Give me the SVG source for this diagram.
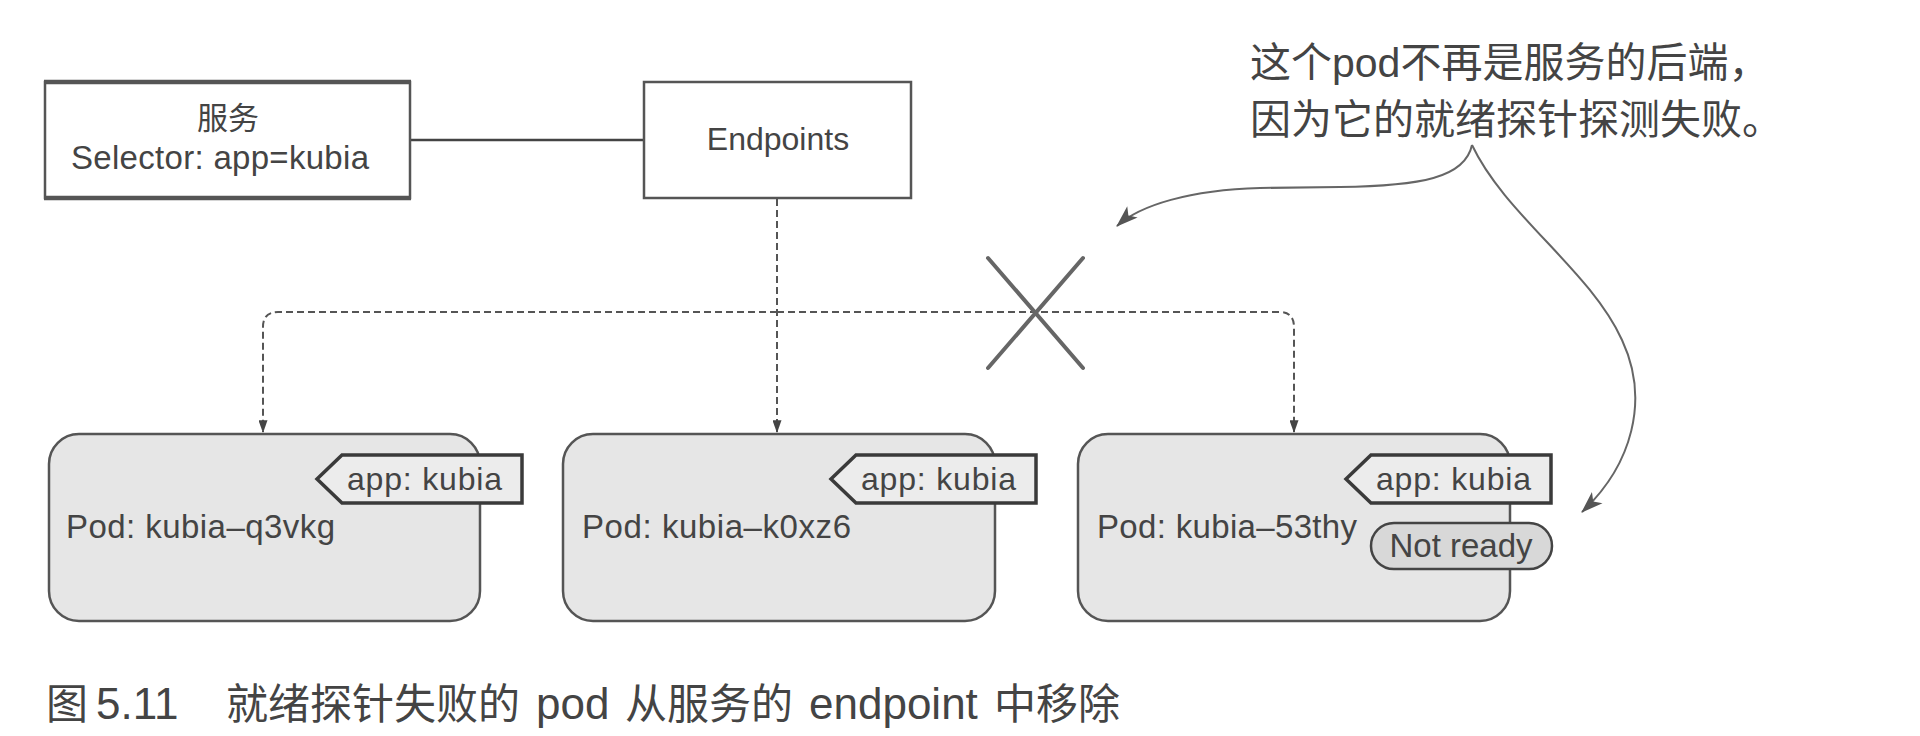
<svg xmlns="http://www.w3.org/2000/svg" width="1920" height="736" viewBox="0 0 1920 736">
  <style>
    .t { font-family: "Liberation Sans", "Noto Sans CJK SC", sans-serif; fill: #444; }
    .box { fill: #ffffff; stroke: #555; stroke-width: 2.5; }
    .pod { fill: #e6e6e6; stroke: #555; stroke-width: 2.5; }
    .tag { fill: #ececec; stroke: #3a3a3a; stroke-width: 3.5; stroke-linejoin: miter; }
    .pill { fill: #d8d8d8; stroke: #444; stroke-width: 2.5; }
    .dash { fill: none; stroke: #555; stroke-width: 2; stroke-dasharray: 7 4; }
    .curve { fill: none; stroke: #666; stroke-width: 2; }
    .lat { font-size: 44px; }
  </style>
  <defs>
    <marker id="dah" viewBox="0 0 14 10" refX="13" refY="5" markerWidth="14" markerHeight="9" markerUnits="userSpaceOnUse" orient="auto">
      <path d="M0,0 L14,5 L0,10 Z" fill="#444"/>
    </marker>
    <marker id="cah" viewBox="0 0 20 14" refX="19" refY="7" markerWidth="22" markerHeight="16" markerUnits="userSpaceOnUse" orient="auto">
      <path d="M0,0 L20,7 L0,14 L5,7 Z" fill="#555"/>
    </marker>
  </defs>

  <rect width="1920" height="736" fill="#ffffff"/>

  <g id="connectors">
    <line x1="410" y1="140" x2="644" y2="140" stroke="#444" stroke-width="2.5"/>
    <path class="dash" d="M777,199 V432" marker-end="url(#dah)"/>
    <path class="dash" d="M777,312 H278 Q263,312 263,327 V432" marker-end="url(#dah)"/>
    <path class="dash" d="M777,312 H1279 Q1294,312 1294,327 V432" marker-end="url(#dah)"/>
    <g id="cross" stroke="#666" stroke-width="4" stroke-linecap="round">
      <line x1="988" y1="258" x2="1083" y2="368"/>
      <line x1="1083" y1="258" x2="988" y2="368"/>
    </g>
    <path class="curve" d="M1472,145 C1465,178 1420,186 1340,187 L1260,188 C1190,190 1140,205 1117,226" marker-end="url(#cah)"/>
    <path class="curve" d="M1472,145 C1505,215 1590,270 1622,340 C1650,400 1632,465 1582,512" marker-end="url(#cah)"/>
  </g>

  <g id="service">
    <rect class="box" x="45" y="82" width="365" height="116"/>
    <line x1="44" y1="82" x2="411" y2="82" stroke="#555" stroke-width="4.5"/>
    <line x1="44" y1="198" x2="411" y2="198" stroke="#555" stroke-width="4.5"/>
    <text class="t" x="228" y="129" font-size="31" text-anchor="middle">服务</text>
    <text class="t" x="71" y="169" font-size="33" textLength="298">Selector: app=kubia</text>
  </g>

  <g id="endpoints">
    <rect class="box" x="644" y="82" width="267" height="116"/>
    <text class="t" x="778" y="150" font-size="32" text-anchor="middle">Endpoints</text>
  </g>

  <g id="pod1">
    <rect class="pod" x="49" y="434" width="431" height="187" rx="30"/>
    <polygon class="tag" points="317,479 342,455 522,455 522,503 342,503"/>
    <text class="t" x="347" y="490" font-size="32" textLength="155">app: kubia</text>
    <text class="t" x="66" y="538" font-size="33" textLength="269">Pod: kubia–q3vkg</text>
  </g>

  <g id="pod2">
    <rect class="pod" x="563" y="434" width="432" height="187" rx="30"/>
    <polygon class="tag" points="831,479 856,455 1036,455 1036,503 856,503"/>
    <text class="t" x="861" y="490" font-size="32" textLength="155">app: kubia</text>
    <text class="t" x="582" y="538" font-size="33" textLength="269">Pod: kubia–k0xz6</text>
  </g>

  <g id="pod3">
    <rect class="pod" x="1078" y="434" width="432" height="187" rx="30"/>
    <polygon class="tag" points="1346,479 1371,455 1551,455 1551,503 1371,503"/>
    <text class="t" x="1376" y="490" font-size="32" textLength="155">app: kubia</text>
    <text class="t" x="1097" y="538" font-size="33" textLength="260">Pod: kubia–53thy</text>
    <rect class="pill" x="1371" y="523" width="181" height="46" rx="23"/>
    <text class="t" x="1461" y="557" font-size="33" text-anchor="middle">Not ready</text>
  </g>

  <g id="annotation">
    <text class="t" x="1250" y="77" font-size="41" fill="#555">这个pod不再是服务的后端，</text>
    <text class="t" x="1250" y="134" font-size="41" fill="#555">因为它的就绪探针探测失败。</text>
  </g>

  <g id="caption">
    <text class="t" y="719" font-size="42"><tspan x="46">图</tspan><tspan x="96" class="lat">5.11</tspan><tspan x="226">就绪探针失败的</tspan><tspan x="536" class="lat">pod</tspan><tspan x="625">从服务的</tspan><tspan x="809" class="lat">endpoint</tspan><tspan x="994">中移除</tspan></text>
  </g>
</svg>
